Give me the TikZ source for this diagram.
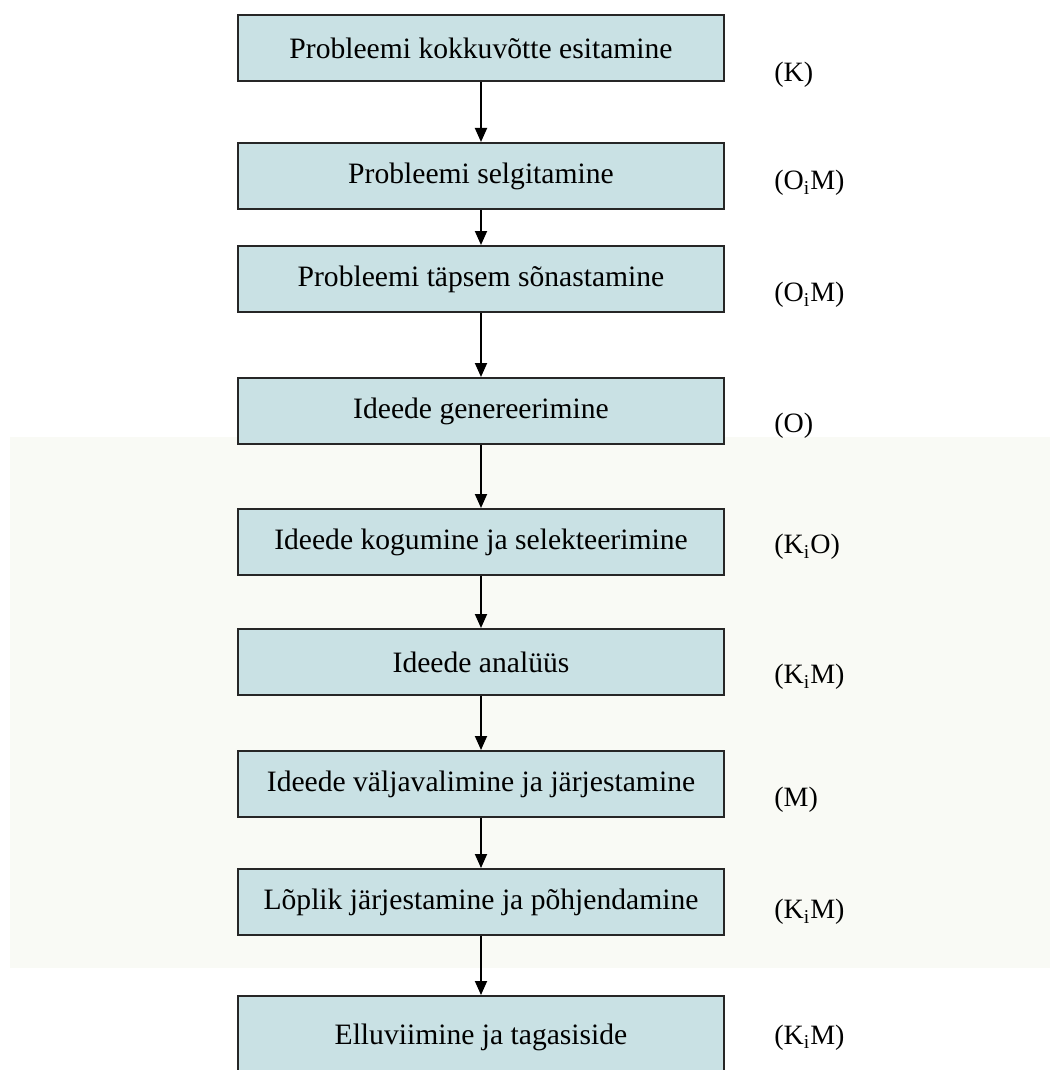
\documentclass[tikz,border=0pt]{standalone}
\usepackage{fontspec}
\setmainfont{Liberation Serif}
\usepackage{xcolor}
\usetikzlibrary{arrows.meta,positioning}

\definecolor{boxfill}{RGB}{201,225,228}
\definecolor{bgcream}{RGB}{249,250,245}

\begin{document}
\begin{tikzpicture}[node distance=30pt,
  box/.style={draw=black!85,line width=0.9pt,fill=boxfill,minimum height=33.1pt,minimum width=243pt,inner sep=0pt,align=center,font=\fontsize{14.8}{17}\selectfont},
  lab/.style={inner sep=0pt,font=\fontsize{14}{16}\selectfont},
  arr/.style={-{Triangle[length=7pt,width=6pt]},line width=0.9pt,black}]
\clip (-240.5pt,24pt) rectangle (284.5pt,-511pt);
% light band behind the lower steps
\fill[bgcream] (-235.5pt,-194.5pt) rectangle (284.5pt,-460pt);
\node[box] (sum) {Probleemi kokkuvõtte esitamine};
\node[box,below=of sum] (expl) {Probleemi selgitamine};
\node[box,below=17.5pt of expl] (form) {Probleemi täpsem sõnastamine};
\node[box,below=32pt of form] (gen) {Ideede genereerimine};
\node[box,below=31.5pt of gen] (coll) {Ideede kogumine ja selekteerimine};
\node[box,below=26pt of coll] (anal) {Ideede analüüs};
\node[box,below=27pt of anal] (sel) {Ideede väljavalimine ja järjestamine};
\node[box,below=25pt of sel] (fin) {Lõplik järjestamine ja põhjendamine};
\node[box,below=29.5pt of fin,minimum height=42pt] (impl) {Elluviimine ja tagasiside};
\foreach \a/\b in {sum/expl,expl/form,form/gen,gen/coll,coll/anal,anal/sel,sel/fin,fin/impl}
  \draw[arr] (\a) -- (\b);
\node[lab,right=24.5pt of sum,yshift=-13.5pt] (lsum) {(K)};
\node[lab,right=24.5pt of expl,yshift=-3.5pt] (lexpl) {(O\textsubscript{i}M)};
\node[lab,right=24.5pt of form,yshift=-8pt] (lform) {(O\textsubscript{i}M)};
\node[lab,right=24.5pt of gen,yshift=-7.5pt] (lgen) {(O)};
\node[lab,right=24.5pt of coll,yshift=-2.5pt] (lcoll) {(K\textsubscript{i}O)};
\node[lab,right=24.5pt of anal,yshift=-7.5pt] (lanal) {(K\textsubscript{i}M)};
\node[lab,right=24.5pt of sel,yshift=-8pt] (lsel) {(M)};
\node[lab,right=24.5pt of fin,yshift=-5pt] (lfin) {(K\textsubscript{i}M)};
\node[lab,right=24.5pt of impl,yshift=0pt] (limpl) {(K\textsubscript{i}M)};
\end{tikzpicture}
\end{document}
